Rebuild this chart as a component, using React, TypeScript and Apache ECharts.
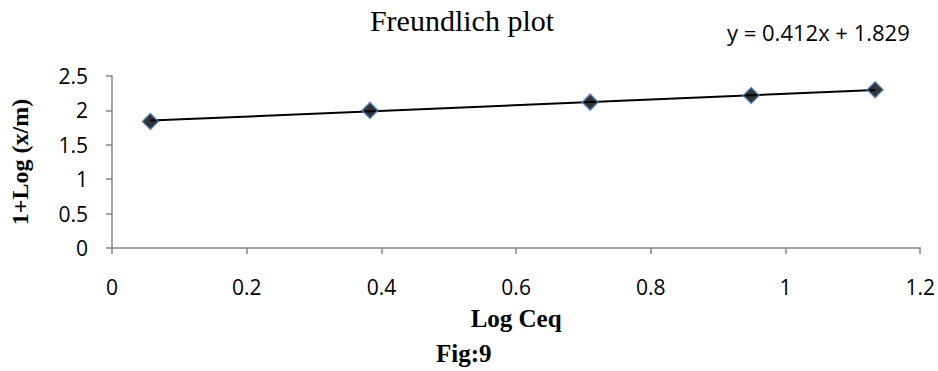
import React, { useEffect, useRef } from "react";
import * as echarts from "echarts";

const logCeq = [0.057, 0.383, 0.71, 0.949, 1.133];
const logXm = [1.84, 2.0, 2.12, 2.217, 2.3];
const trendX = [0.057, 1.133];
const trendY = [1.852, 2.296];
const title = "Freundlich plot";
const equation = "y = 0.412x + 1.829";
const xName = "Log Ceq";
const yName = "1+Log (x/m)";
const figLabel = "Fig:9";

export default function App() {
  const ref = useRef<HTMLDivElement>(null);
  useEffect(() => {
    if (!ref.current) return;
    const chart = echarts.init(ref.current, null, { renderer: "svg" });
    chart.setOption({
      animation: false,
      backgroundColor: "#ffffff",
      title: {
        text: title,
        left: 462,
        top: 5,
        padding: 0,
        textAlign: "center",
        textStyle: { fontFamily: "Liberation Serif", fontWeight: "normal", fontSize: 30, color: "#000" },
      },
      graphic: [
        {
          type: "text",
          left: 727,
          top: 21,
          style: { text: equation, font: "22px 'Open Sans'", fill: "#000" },
        },
        {
          type: "text",
          left: 436,
          top: 341,
          style: { text: figLabel, font: "bold 25px 'Liberation Serif'", fill: "#000" },
        },
      ],
      grid: { left: 111, right: 15, top: 76, bottom: 123, containLabel: false },
      xAxis: {
        type: "value",
        min: 0,
        max: 1.2,
        interval: 0.2,
        name: xName,
        nameLocation: "middle",
        nameGap: 58,
        nameTextStyle: { fontFamily: "Liberation Serif", fontWeight: "bold", fontSize: 25, color: "#000" },
        axisLine: { show: true, lineStyle: { color: "#868686", width: 1.5 } },
        axisTick: { show: true, length: 6, lineStyle: { color: "#868686", width: 1.5 } },
        axisLabel: { fontFamily: "Open Sans", fontSize: 21, color: "#000", margin: 28 },
        splitLine: { show: false },
      },
      yAxis: {
        type: "value",
        min: 0,
        max: 2.5,
        interval: 0.5,
        name: yName,
        nameLocation: "middle",
        nameGap: 80,
        nameTextStyle: { fontFamily: "Liberation Serif", fontWeight: "bold", fontSize: 24, color: "#000" },
        axisLine: { show: true, lineStyle: { color: "#868686", width: 1.5 } },
        axisTick: { show: true, length: 6, lineStyle: { color: "#868686", width: 1.5 } },
        axisLabel: { fontFamily: "Open Sans", fontSize: 21, color: "#000", margin: 24 },
        splitLine: { show: false },
      },
      series: [
        {
          type: "line",
          data: trendX.map((x, i) => [x, trendY[i]]),
          showSymbol: false,
          symbol: "none",
          lineStyle: { color: "#000", width: 2 },
          z: 1,
        },
        {
          type: "scatter",
          data: logCeq.map((x, i) => [x, logXm[i]]),
          symbol: "diamond",
          symbolSize: 16,
          itemStyle: { color: "#000", borderColor: "#4f81bd", borderWidth: 1.5 },
          z: 2,
        },
      ],
    });
    return () => chart.dispose();
  }, []);
  return (
    <div
      ref={ref}
      style={{ position: "absolute", left: 0, top: 0, width: 938, height: 371 }}
    />
  );
}
